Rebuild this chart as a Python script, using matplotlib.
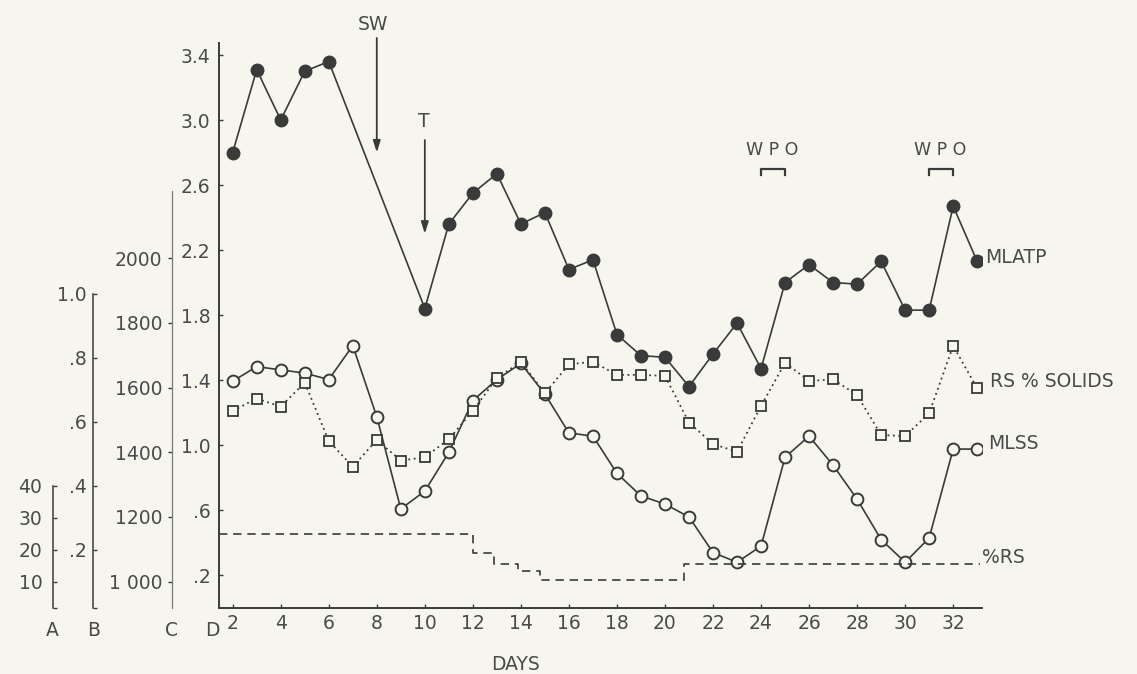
import matplotlib
matplotlib.use("Agg")
import matplotlib.pyplot as plt

PAPER = "#f7f6ee"
INK = "#3a3a3a"
TEXT = "#4a4a4a"

# sampling days
days = list(range(2, 34))
atp_days = [2, 3, 4, 5, 6] + list(range(10, 34))

# scale D: mixed-liquor ATP
mlatp = [2.80, 3.31, 3.00, 3.30, 3.36,
         1.84, 2.36, 2.55, 2.67, 2.36, 2.43, 2.08, 2.14, 1.68, 1.55, 1.54,
         1.36, 1.56, 1.75, 1.47, 2.00, 2.11, 2.00, 1.99, 2.13, 1.83, 1.83,
         2.47, 2.13]

# scale C: mixed-liquor suspended solids (mg/l)
mlss = [1620, 1665, 1655, 1645, 1625, 1730, 1510, 1225, 1280, 1400, 1560,
        1625, 1675, 1580, 1460, 1450, 1335, 1265, 1240, 1200, 1090, 1060,
        1110, 1385, 1450, 1360, 1255, 1130, 1060, 1135, 1410, 1410]

# scale B: return sludge % solids
rs_solids = [0.635, 0.673, 0.648, 0.723, 0.541, 0.460, 0.544, 0.479, 0.490,
             0.546, 0.635, 0.737, 0.788, 0.690, 0.780, 0.788, 0.747, 0.747,
             0.744, 0.598, 0.531, 0.507, 0.650, 0.785, 0.728, 0.733, 0.684,
             0.559, 0.556, 0.627, 0.838, 0.705]

# scale A: % return sludge, changed stepwise
rs_change_days = [1.43, 12, 12.9, 13.9, 14.8, 20.8, 33.1]
rs_pct = [25, 19, 15.5, 13.5, 10.5, 15.5, 15.5]

x_ticks = list(range(2, 33, 2))
d_ticks = [0.2, 0.6, 1.0, 1.4, 1.8, 2.2, 2.6, 3.0, 3.4]
d_labels = [".2", ".6", "1.0", "1.4", "1.8", "2.2", "2.6", "3.0", "3.4"]
c_ticks = [1000, 1200, 1400, 1600, 1800, 2000]
c_labels = ["1 000", "1200", "1400", "1600", "1800", "2000"]
b_ticks = [0.2, 0.4, 0.6, 0.8, 1.0]
b_labels = [".2", ".4", ".6", ".8", "1.0"]
a_ticks = [10, 20, 30, 40]
a_labels = ["10", "20", "30", "40"]

plt.rcParams["font.family"] = ["DejaVu Sans"]
FS = 13.5

fig = plt.figure(figsize=(11.37, 6.74), dpi=100, facecolor=PAPER)
W, H = 1137.0, 674.0
ax = fig.add_axes([219 / W, (H - 607.5) / H, 763 / W, 564.5 / H])
ax.set_facecolor(PAPER)
ax.set_xlim(1.43, 33.2)
ax.set_ylim(0, 3.474)

for s in ("top", "right"):
    ax.spines[s].set_visible(False)
for s in ("left", "bottom"):
    ax.spines[s].set_color(INK)
    ax.spines[s].set_linewidth(1.4)

ax.set_xticks(x_ticks, [str(d) for d in x_ticks])
ax.set_yticks(d_ticks, d_labels)
ax.tick_params(axis="x", direction="in", length=3, width=1, colors=INK,
               labelcolor=TEXT, labelsize=FS, pad=5)
ax.tick_params(axis="y", direction="in", length=3, width=1, colors=INK,
               labelcolor=TEXT, labelsize=FS, pad=6)


def side_axis(lo, hi, offset, top, ticks, labels, direction, pad):
    tw = ax.twinx()
    tw.set_ylim(lo, hi)
    for s in ("top", "right", "bottom"):
        tw.spines[s].set_visible(False)
    sp = tw.spines["left"]
    sp.set_visible(True)
    sp.set_position(("axes", offset))
    sp.set_bounds(lo, top)
    sp.set_color(INK)
    sp.set_linewidth(1.1)
    tw.yaxis.set_ticks_position("left")
    tw.yaxis.set_label_position("left")
    tw.set_yticks(ticks, labels)
    tw.tick_params(axis="y", direction=direction, length=3, width=1,
                   colors=INK, labelcolor=TEXT, labelsize=FS, pad=pad)
    return tw


axC = side_axis(920, 2666, -46.7 / 763, 2208, c_ticks, c_labels, "out", 4)
axC.spines["left"].set_color("#7a7a7a")
axC.spines["left"].set_linewidth(0.9)
axB = side_axis(0.0203, 1.784, -125.7 / 763, 1.0, [0.0203] + b_ticks,
                [""] + b_labels, "in", 4.5)
axA = side_axis(2.03, 178.4, -166.3 / 763, 40, [2.03] + a_ticks,
                [""] + a_labels, "in", 7.5)

# MLATP: filled circles, solid line
ax.plot(atp_days, mlatp, color=INK, lw=1.2, marker="o", ms=9,
        mfc=INK, mec=INK, zorder=3)

# RS % solids: open squares, dotted line
axB.plot(days, rs_solids, color=INK, lw=1.3, ls=(0, (1, 2)), marker="s",
         ms=7, mfc=PAPER, mec=INK, mew=1.3, zorder=3)

# MLSS: open circles, solid line
axC.plot(days, mlss, color=INK, lw=1.2, marker="o", ms=8.5,
         mfc=PAPER, mec=INK, mew=1.4, zorder=4)

# % return sludge: dashed steps
axA.plot(rs_change_days, rs_pct, color=INK, lw=1.2, ls=(0, (5, 3.5)),
         drawstyle="steps-post", zorder=2)

# series names at the right end of each trace
ax.annotate("MLATP", xy=(atp_days[-1], mlatp[-1]), xytext=(5.5, 3),
            textcoords="offset points", va="center", ha="left",
            fontsize=FS, color=TEXT, annotation_clip=False)
axB.annotate("RS % SOLIDS", xy=(days[-1], rs_solids[-1]), xytext=(9, 4.8),
             textcoords="offset points", va="center", ha="left",
             fontsize=FS, color=TEXT, annotation_clip=False)
axC.annotate("MLSS", xy=(days[-1], mlss[-1]), xytext=(8, 4),
             textcoords="offset points", va="center", ha="left",
             fontsize=FS, color=TEXT, annotation_clip=False)
axA.annotate("%RS", xy=(rs_change_days[-1], rs_pct[-1]), xytext=(1.5, 4.8),
             textcoords="offset points", va="center", ha="left",
             fontsize=FS, color=TEXT, annotation_clip=False)

# event markers
arrow = dict(arrowstyle="-|>,head_length=0.7,head_width=0.22", color=INK,
             lw=1.3, shrinkA=0, shrinkB=0)
ax.text(7.85, 3.585, "SW", ha="center", va="center", fontsize=FS,
        color=TEXT, clip_on=False)
ax.annotate("", xy=(8, 2.80), xytext=(8, 3.505), arrowprops=arrow,
            annotation_clip=False)
ax.text(9.95, 2.99, "T", ha="center", va="center", fontsize=FS, color=TEXT)
ax.annotate("", xy=(10, 2.30), xytext=(10, 2.877), arrowprops=arrow,
            annotation_clip=False)

for d0, d1 in [(24, 25), (31, 32)]:
    ax.plot([d0, d0, d1, d1], [2.66, 2.70, 2.70, 2.66], color=INK, lw=1.6)
    ax.text((d0 + d1) / 2 - 0.05, 2.815, "W P O", ha="center", va="center",
            fontsize=FS - 1, color=TEXT)

ax.text(13.76, -0.35, "DAYS", ha="center", va="center", fontsize=FS,
        color=TEXT, clip_on=False)

for letter, px in [("A", 52), ("B", 94), ("C", 171), ("D", 212)]:
    fig.text(px / W, 1 - 630 / H, letter, ha="center", va="center",
             fontsize=FS, color=TEXT)

fig.savefig("out.png", dpi=100, facecolor=PAPER)
